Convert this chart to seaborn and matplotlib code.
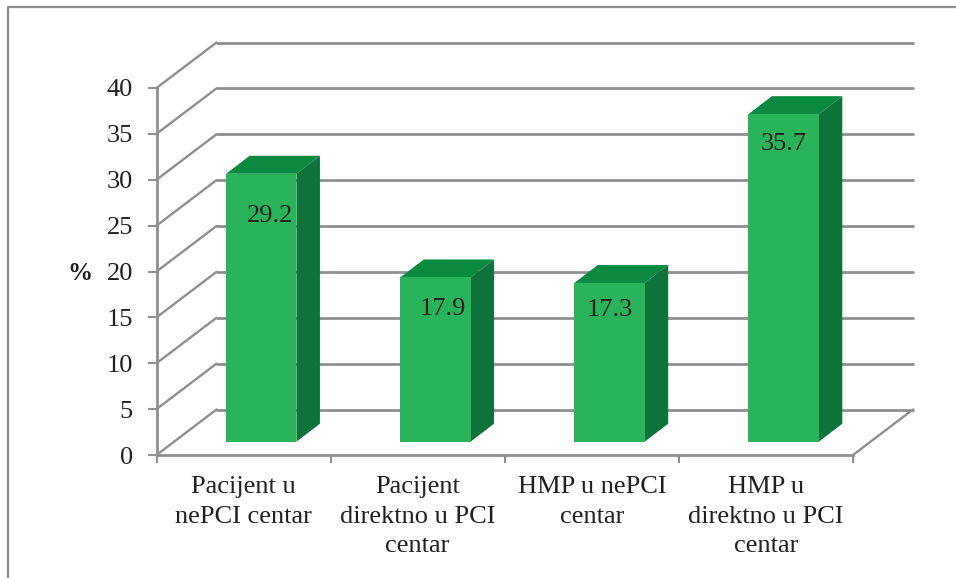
import matplotlib
matplotlib.use("Agg")
import matplotlib.pyplot as plt
from matplotlib.lines import Line2D
from matplotlib.patches import Polygon
from matplotlib.transforms import Affine2D
import pandas as pd
import seaborn as sns

categories = ["Pacijent u\nnePCI centar", "Pacijent\ndirektno u PCI\ncentar",
              "HMP u nePCI\ncentar", "HMP u\ndirektno u PCI\ncentar"]
values = [29.2, 17.9, 17.3, 35.7]
y_ticks = [0, 5, 10, 15, 20, 25, 30, 35, 40]
y_label = "%"

# style
W, H = 956, 578
FRONT, TOP, SIDE, GRID = "#2AB45A", "#0A8A40", "#0D7339", "#8F8F92"
TEXT = "#231F20"
SERIF = "Liberation Serif"
label_shift_px = [(8.5, -42), (7.5, -31.5), (0, -27), (0, -29.5)]
FS = 19

sns.set_theme(style="white")
plt.rcParams["font.family"] = [SERIF, "DejaVu Sans"]

fig = plt.figure(figsize=(W / 100, H / 100), dpi=100, facecolor="white")
L, R, B, T = 156.5, 853, 455, 88
ax = fig.add_axes([L / W, (H - B) / H, (R - L) / W, (B - T) / H])

df = pd.DataFrame({"cat": categories, "val": values})
sns.barplot(data=df, x="cat", y="val", color=FRONT, saturation=1, width=0.404,
            ax=ax, zorder=3, linewidth=0)
ax.set_xlim(-0.5, 3.5)
ax.set_ylim(0, 40)

px_x = (R - L) / 4      # pixels per category
px_y = (B - T) / 40     # pixels per percent
wall_dx, wall_dy = 60 / px_x, 45.5 / px_y
bar_dx, bar_dy = 23.5 / px_x, 18 / px_y
shift = Affine2D().translate(17.7, 13.3)

# back wall and floor
for v in y_ticks:
    ax.plot([-0.5, -0.5 + wall_dx], [v, v + wall_dy], color=GRID, lw=1.7,
            clip_on=False, zorder=1, solid_capstyle="round")
    ax.plot([-0.5 + wall_dx, 3.5 + wall_dx], [v + wall_dy] * 2, color=GRID, lw=2.0,
            clip_on=False, zorder=1, solid_capstyle="round")
ax.plot([3.5, 3.5 + wall_dx], [0, wall_dy], color=GRID, lw=1.7, clip_on=False, zorder=1)

# bars: move the front faces, then build the top and side faces on them
for i, (patch, val) in enumerate(zip(list(ax.patches), values)):
    x0, x1 = patch.get_x(), patch.get_x() + patch.get_width()
    patch.set_transform(ax.transData + shift)
    patch.set_clip_on(False)
    top = [(x0, val), (x1, val), (x1 + bar_dx, val + bar_dy), (x0 + bar_dx, val + bar_dy)]
    side = [(x1, 0), (x1 + bar_dx, bar_dy), (x1 + bar_dx, val + bar_dy), (x1, val)]
    for pts, col in ((top, TOP), (side, SIDE)):
        ax.add_patch(Polygon(pts, closed=True, facecolor=col, edgecolor="none", zorder=2.5,
                             transform=ax.transData + shift, clip_on=False))
    sx, sy = label_shift_px[i]
    ax.annotate(f"{val}", xy=(i, val), xycoords=ax.transData + shift, xytext=(sx * .72, sy * .72),
                textcoords="offset points", ha="center", va="center", fontsize=FS,
                color=TEXT, zorder=5)

# axes
for s in ("top", "right"):
    ax.spines[s].set_visible(False)
for s in ("left", "bottom"):
    ax.spines[s].set_color(GRID)
    ax.spines[s].set_linewidth(2.0)
    ax.spines[s].set_zorder(2)
ax.set_xlabel("")
ax.set_ylabel("")
ax.set_yticks(y_ticks)
ax.set_xticks(range(4))
ax.set_xticklabels(categories, fontsize=FS, color=TEXT, linespacing=1.46)
ax.set_xticks([-0.5, 0.5, 1.5, 2.5, 3.5], minor=True)
ax.tick_params(axis="x", which="major", length=0, pad=15)
ax.tick_params(axis="x", which="minor", length=6, width=1.5, color=GRID, bottom=True)
ax.tick_params(axis="y", length=6.5, width=1.5, color=GRID, left=True, pad=10.5,
               labelsize=FS, labelcolor=TEXT)
ax.patch.set_alpha(0)
fig.text(80 / W, 1 - 273 / H, y_label, fontsize=18, fontweight="bold", color=TEXT,
         ha="center", va="center")

# outer frame
fig.add_artist(Line2D([7.5 / W, 7.5 / W, 1], [0, 1 - 6.5 / H, 1 - 6.5 / H], color="#8C8C8E", lw=1.6))

fig.savefig("out.png", dpi=100, facecolor="white")
